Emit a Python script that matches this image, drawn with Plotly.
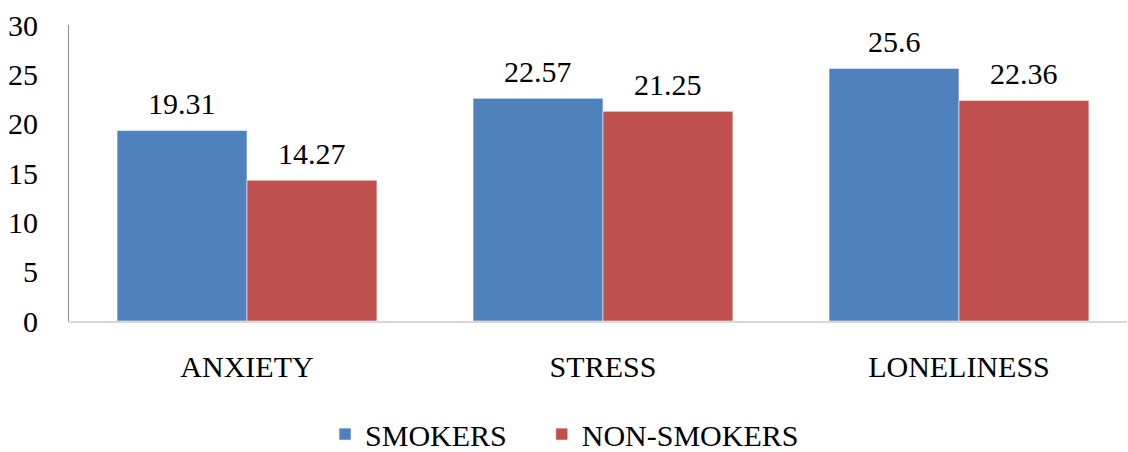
import plotly.graph_objects as go

categories = ["ANXIETY", "STRESS", "LONELINESS"]
smokers = [19.31, 22.57, 25.6]
non_smokers = [14.27, 21.25, 22.36]
series_names = ["SMOKERS", "NON-SMOKERS"]
y_ticks = [0, 5, 10, 15, 20, 25, 30]

BLUE = "#4F81BD"
RED = "#C0504D"
FONT = "Liberation Serif"
FS = 30

W, H = 1128, 452
ML, MR, MT, MB = 69, 1, 25, 131
BARGAP = 0.27
X_RANGE = [-0.5, 2.472]
NBSP = "\u00a0"

fig = go.Figure()
for i, (name, vals, col) in enumerate([(series_names[0], smokers, BLUE), (series_names[1], non_smokers, RED)]):
    # pad the first legend entry so the entries are spread like the reference
    label = name + (NBSP * 4 if i == 0 else "")
    fig.add_trace(go.Bar(
        x=categories, y=vals, name=label,
        marker=dict(color=col, line=dict(color="rgba(255,255,255,0.55)", width=1)),
        hovertemplate="%{x}: %{y}<extra>" + name + "</extra>",
    ))

# data labels above each bar
plot_w = W - ML - MR
cat_px = plot_w / (X_RANGE[1] - X_RANGE[0])
bar_px = cat_px * (1 - BARGAP) / 2
annotations = []
for vals, sign in [(smokers, -1), (non_smokers, 1)]:
    for c, v in zip(categories, vals):
        annotations.append(dict(
            x=c, y=v, xref="x", yref="y", text=f"{v:g}",
            showarrow=False, xshift=sign * bar_px / 2, yshift=8,
            yanchor="bottom", xanchor="center",
            font=dict(family=FONT, size=FS, color="#000000"),
        ))

fig.update_layout(
    width=W, height=H,
    margin=dict(l=ML, r=MR, t=MT, b=MB, autoexpand=False),
    paper_bgcolor="white", plot_bgcolor="white",
    barmode="group", bargap=BARGAP, bargroupgap=0,
    font=dict(family=FONT, size=FS, color="#000000"),
    showlegend=True,
    legend=dict(orientation="h", x=0.242, xanchor="left", y=-0.382, yanchor="middle",
                font=dict(family=FONT, size=FS, color="#000000"),
                itemclick=False, traceorder="normal"),
    annotations=annotations,
)
fig.update_yaxes(range=[0, 30], tickvals=y_ticks, showgrid=False, zeroline=False,
                 showline=True, linecolor="#8c8c8c", linewidth=1,
                 ticks="", ticklabelstandoff=24,
                 tickfont=dict(family=FONT, size=FS, color="#000000"))
fig.update_xaxes(range=X_RANGE, showgrid=False, showline=True, linecolor="#d9d9d9", linewidth=2,
                 ticks="", ticklabelstandoff=18,
                 tickfont=dict(family=FONT, size=FS, color="#000000"))

fig.write_html("out.html")
